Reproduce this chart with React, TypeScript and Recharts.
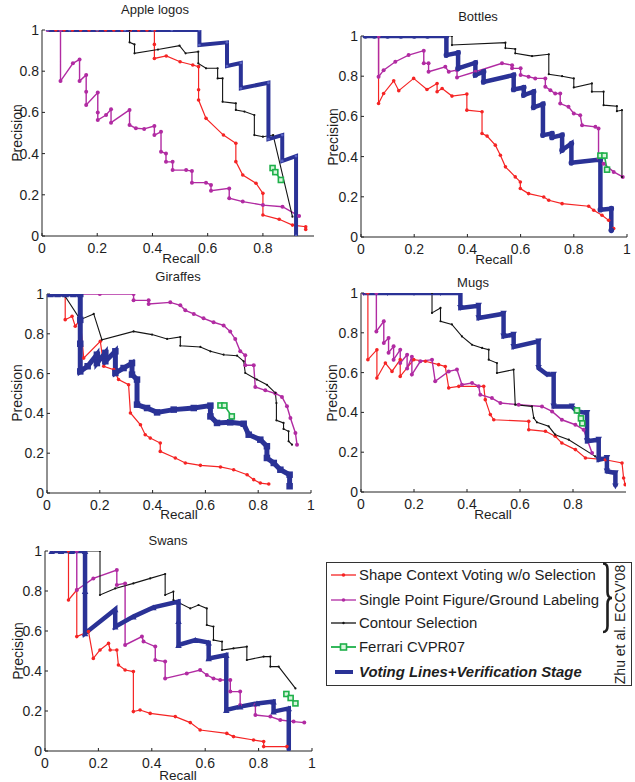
import React from 'react';
import { LineChart, Line, XAxis, YAxis } from 'recharts';

type Pt = [number, number];

const FONT = '"Liberation Sans", Arial, Helvetica, sans-serif';

const xTicksFull = [0, 0.2, 0.4, 0.6, 0.8, 1];
const xTicksShort = [0, 0.2, 0.4, 0.6, 0.8];
const yTicks = [0, 0.2, 0.4, 0.6, 0.8, 1];

const legendLabels = [
  'Shape Context Voting w/o Selection',
  'Single Point Figure/Ground Labeling',
  'Contour Selection',
  'Ferrari CVPR07',
  'Voting Lines+Verification Stage',
];
const sideNote = "Zhu et al. ECCV'08";

const RED = '#F52424';
const MAG = '#B12BA2';
const BLK = '#141414';
const GRN = '#1EB04A';
const BLU = '#2A3296';

// ---------- Apple logos ----------
const appleRed: Pt[] = [[0.02,1],[0.05,1],[0.08,1],[0.11,1],[0.14,1],[0.17,1],[0.2,1],[0.23,1],[0.26,1],[0.29,1],[0.32,1],[0.35,1],[0.38,1],[0.407,1],[0.407,0.93],[0.407,0.862],[0.45,0.874],[0.5,0.846],[0.546,0.83],[0.567,0.822],[0.567,0.71],[0.567,0.66],[0.594,0.571],[0.657,0.49],[0.702,0.45],[0.702,0.361],[0.727,0.296],[0.775,0.256],[0.8,0.207],[0.8,0.102],[0.859,0.081],[0.907,0.053],[0.955,0.045],[0.955,0.032]];
const appleMagenta: Pt[] = [[0.02,1],[0.067,1],[0.067,0.752],[0.112,0.838],[0.136,0.857],[0.136,0.752],[0.16,0.782],[0.16,0.7],[0.16,0.636],[0.202,0.696],[0.202,0.6],[0.202,0.563],[0.232,0.587],[0.25,0.615],[0.25,0.55],[0.317,0.612],[0.317,0.539],[0.34,0.523],[0.37,0.52],[0.407,0.534],[0.407,0.49],[0.431,0.506],[0.431,0.409],[0.449,0.401],[0.449,0.36],[0.473,0.36],[0.473,0.32],[0.522,0.32],[0.543,0.315],[0.543,0.259],[0.594,0.259],[0.612,0.248],[0.612,0.22],[0.678,0.231],[0.678,0.183],[0.727,0.167],[0.8,0.15],[0.871,0.142],[0.931,0.097]];
const appleBlack: Pt[] = [[0.02,1],[0.317,1],[0.317,0.94],[0.335,0.93],[0.335,0.887],[0.42,0.905],[0.498,0.924],[0.52,0.887],[0.566,0.895],[0.566,0.838],[0.594,0.814],[0.636,0.814],[0.636,0.765],[0.654,0.765],[0.654,0.652],[0.702,0.644],[0.702,0.612],[0.733,0.604],[0.769,0.587],[0.769,0.49],[0.8,0.482],[0.837,0.49],[0.907,0.094]];
const appleGreen: Pt[] = [[0.835,0.33],[0.845,0.31],[0.865,0.272]];
const appleBlue: Pt[] = [[0.02,1],[0.1,1],[0.2,1],[0.3,1],[0.4,1],[0.47,1],[0.57,1],[0.57,0.927],[0.67,0.94],[0.67,0.825],[0.72,0.84],[0.72,0.717],[0.82,0.744],[0.82,0.47],[0.87,0.49],[0.87,0.364],[0.92,0.388],[0.92,0.0]];

// ---------- Bottles ----------
const bottlesRed: Pt[] = [[0.016,1],[0.066,1],[0.066,0.664],[0.085,0.714],[0.123,0.777],[0.142,0.728],[0.198,0.789],[0.248,0.734],[0.286,0.764],[0.286,0.723],[0.305,0.739],[0.342,0.701],[0.398,0.711],[0.398,0.631],[0.455,0.623],[0.455,0.515],[0.474,0.502],[0.505,0.457],[0.524,0.407],[0.543,0.349],[0.58,0.299],[0.599,0.274],[0.599,0.241],[0.63,0.216],[0.687,0.199],[0.706,0.183],[0.756,0.166],[0.856,0.153],[0.875,0.133],[0.906,0.108],[0.931,0.083],[0.95,0.042]];
const bottlesMagenta: Pt[] = [[0.016,1],[0.066,1],[0.066,0.797],[0.085,0.83],[0.129,0.872],[0.179,0.905],[0.236,0.927],[0.236,0.864],[0.254,0.864],[0.254,0.822],[0.317,0.847],[0.33,0.822],[0.361,0.83],[0.361,0.794],[0.43,0.822],[0.53,0.864],[0.568,0.855],[0.568,0.839],[0.6,0.839],[0.6,0.806],[0.63,0.797],[0.655,0.789],[0.693,0.789],[0.693,0.748],[0.712,0.73],[0.73,0.714],[0.749,0.714],[0.749,0.664],[0.78,0.648],[0.8,0.615],[0.824,0.606],[0.831,0.556],[0.881,0.548],[0.893,0.54],[0.893,0.39],[0.912,0.365],[0.95,0.324],[0.984,0.299]];
const bottlesBlack: Pt[] = [[0.016,1],[0.342,1],[0.342,0.955],[0.543,0.967],[0.543,0.94],[0.58,0.935],[0.58,0.914],[0.643,0.9],[0.706,0.909],[0.706,0.81],[0.756,0.8],[0.8,0.789],[0.8,0.744],[0.868,0.764],[0.868,0.723],[0.912,0.723],[0.912,0.656],[0.962,0.651],[0.962,0.626],[0.981,0.631],[0.981,0.299]];
const bottlesGreen: Pt[] = [[0.9,0.405],[0.915,0.405],[0.925,0.335]];
const bottlesBlue: Pt[] = [[0.016,1],[0.05,1],[0.1,1],[0.15,1],[0.2,1],[0.25,1],[0.321,1],[0.321,0.905],[0.365,0.917],[0.365,0.839],[0.43,0.867],[0.43,0.806],[0.461,0.822],[0.461,0.772],[0.574,0.806],[0.574,0.734],[0.612,0.744],[0.612,0.706],[0.649,0.723],[0.649,0.645],[0.684,0.661],[0.684,0.507],[0.718,0.515],[0.718,0.495],[0.756,0.507],[0.756,0.432],[0.791,0.465],[0.791,0.369],[0.9,0.385],[0.9,0.136],[0.941,0.141],[0.941,0.033]];

// ---------- Giraffes ----------
const giraffesRed: Pt[] = [[0.013,1],[0.069,1],[0.069,0.871],[0.095,0.888],[0.107,0.838],[0.126,0.871],[0.139,0.678],[0.202,0.762],[0.215,0.637],[0.253,0.62],[0.271,0.57],[0.309,0.544],[0.316,0.402],[0.354,0.343],[0.372,0.293],[0.391,0.276],[0.429,0.251],[0.429,0.209],[0.486,0.176],[0.524,0.151],[0.581,0.139],[0.657,0.131],[0.707,0.117],[0.758,0.092],[0.783,0.067],[0.808,0.05],[0.84,0.045]];
const giraffesMagenta: Pt[] = [[0.013,1],[0.1,1],[0.2,1],[0.328,1],[0.328,0.968],[0.385,0.968],[0.385,0.95],[0.467,0.958],[0.505,0.943],[0.524,0.918],[0.556,0.9],[0.593,0.878],[0.631,0.858],[0.669,0.842],[0.694,0.811],[0.713,0.774],[0.732,0.712],[0.751,0.692],[0.751,0.642],[0.783,0.642],[0.789,0.533],[0.827,0.516],[0.865,0.5],[0.89,0.483],[0.909,0.436],[0.922,0.377],[0.941,0.302],[0.947,0.243]];
const giraffesBlack: Pt[] = [[0.013,1],[0.069,0.988],[0.126,0.871],[0.177,0.9],[0.208,0.77],[0.328,0.812],[0.398,0.796],[0.455,0.774],[0.505,0.784],[0.505,0.74],[0.581,0.734],[0.619,0.712],[0.669,0.695],[0.72,0.69],[0.745,0.662],[0.751,0.603],[0.795,0.57],[0.833,0.544],[0.865,0.503],[0.869,0.452],[0.869,0.365],[0.896,0.352],[0.896,0.322],[0.915,0.31],[0.915,0.26],[0.928,0.243]];
const giraffesGreen: Pt[] = [[0.657,0.44],[0.672,0.44],[0.7,0.385]];
const giraffesBlue: Pt[] = [[0.013,1],[0.04,1],[0.07,1],[0.1,1],[0.126,1],[0.126,0.87],[0.126,0.75],[0.126,0.611],[0.154,0.637],[0.189,0.695],[0.189,0.653],[0.221,0.704],[0.221,0.662],[0.259,0.712],[0.259,0.603],[0.29,0.628],[0.322,0.653],[0.322,0.595],[0.341,0.57],[0.341,0.444],[0.379,0.427],[0.417,0.405],[0.48,0.419],[0.556,0.427],[0.619,0.439],[0.619,0.385],[0.644,0.352],[0.694,0.355],[0.745,0.348],[0.764,0.293],[0.808,0.268],[0.833,0.235],[0.833,0.176],[0.859,0.151],[0.884,0.117],[0.919,0.092],[0.919,0.034]];

// ---------- Mugs ----------
const mugsRed: Pt[] = [[0.01,1],[0.026,1],[0.026,0.665],[0.06,0.715],[0.06,0.573],[0.092,0.648],[0.117,0.606],[0.148,0.665],[0.148,0.581],[0.199,0.665],[0.243,0.657],[0.293,0.64],[0.318,0.631],[0.331,0.523],[0.369,0.531],[0.463,0.531],[0.469,0.464],[0.488,0.389],[0.501,0.363],[0.633,0.355],[0.633,0.313],[0.696,0.305],[0.733,0.28],[0.758,0.246],[0.809,0.213],[0.847,0.171],[0.922,0.162],[0.985,0.146],[0.991,0.07],[0.997,0.037]];
const mugsMagenta: Pt[] = [[0.01,1],[0.058,1],[0.058,0.807],[0.086,0.858],[0.086,0.749],[0.104,0.774],[0.104,0.7],[0.123,0.732],[0.123,0.665],[0.148,0.715],[0.148,0.648],[0.174,0.69],[0.174,0.62],[0.192,0.68],[0.192,0.59],[0.224,0.657],[0.268,0.665],[0.28,0.556],[0.331,0.606],[0.362,0.615],[0.381,0.539],[0.419,0.548],[0.444,0.531],[0.45,0.489],[0.494,0.472],[0.526,0.447],[0.595,0.439],[0.683,0.43],[0.721,0.405],[0.758,0.363],[0.809,0.338],[0.84,0.313],[0.872,0.196]];
const mugsBlack: Pt[] = [[0.01,1],[0.268,1],[0.268,0.9],[0.3,0.925],[0.3,0.858],[0.343,0.842],[0.381,0.782],[0.419,0.74],[0.457,0.724],[0.482,0.715],[0.482,0.665],[0.513,0.648],[0.513,0.598],[0.576,0.615],[0.582,0.439],[0.645,0.43],[0.652,0.372],[0.664,0.35],[0.708,0.33],[0.733,0.288],[0.784,0.263],[0.884,0.179]];
const mugsGreen: Pt[] = [[0.815,0.41],[0.83,0.37],[0.835,0.345]];
const mugsBlue: Pt[] = [[0.01,1],[0.1,1],[0.2,1],[0.3,1],[0.375,1],[0.375,0.925],[0.444,0.936],[0.444,0.874],[0.538,0.896],[0.538,0.782],[0.576,0.791],[0.576,0.729],[0.67,0.757],[0.67,0.623],[0.702,0.59],[0.727,0.59],[0.727,0.43],[0.796,0.43],[0.815,0.405],[0.853,0.397],[0.853,0.255],[0.897,0.263],[0.897,0.162],[0.928,0.171],[0.928,0.104],[0.96,0.095],[0.96,0.028]];

// ---------- Swans ----------
const swansRed: Pt[] = [[0.025,1],[0.088,1],[0.088,0.755],[0.119,0.805],[0.119,0.572],[0.163,0.597],[0.181,0.463],[0.206,0.505],[0.238,0.538],[0.244,0.505],[0.269,0.505],[0.275,0.43],[0.3,0.405],[0.331,0.397],[0.331,0.197],[0.356,0.205],[0.394,0.188],[0.488,0.172],[0.544,0.142],[0.581,0.105],[0.681,0.088],[0.706,0.072],[0.781,0.055],[0.819,0.047],[0.819,0.022],[0.906,0.022]];
const swansMagenta: Pt[] = [[0.025,1],[0.119,1],[0.119,0.805],[0.181,0.863],[0.269,0.905],[0.269,0.83],[0.3,0.838],[0.3,0.53],[0.363,0.572],[0.369,0.547],[0.413,0.522],[0.413,0.455],[0.45,0.447],[0.45,0.363],[0.531,0.388],[0.581,0.405],[0.606,0.38],[0.631,0.363],[0.656,0.355],[0.694,0.355],[0.694,0.297],[0.731,0.297],[0.731,0.23],[0.788,0.23],[0.788,0.18],[0.844,0.172],[0.881,0.155],[0.931,0.147],[0.971,0.142]];
const swansBlack: Pt[] = [[0.025,1],[0.206,1],[0.206,0.78],[0.263,0.813],[0.331,0.838],[0.394,0.863],[0.45,0.885],[0.45,0.78],[0.481,0.797],[0.481,0.755],[0.544,0.713],[0.575,0.73],[0.606,0.713],[0.606,0.63],[0.631,0.622],[0.631,0.555],[0.663,0.547],[0.663,0.505],[0.706,0.513],[0.756,0.522],[0.756,0.455],[0.819,0.472],[0.844,0.472],[0.844,0.422],[0.875,0.422],[0.938,0.313]];
const swansGreen: Pt[] = [[0.904,0.285],[0.92,0.265],[0.938,0.238]];
const swansBlue: Pt[] = [[0.025,1],[0.06,1],[0.1,1],[0.15,1],[0.15,0.8],[0.15,0.588],[0.263,0.708],[0.263,0.622],[0.331,0.672],[0.406,0.718],[0.5,0.747],[0.5,0.65],[0.5,0.53],[0.563,0.555],[0.613,0.542],[0.613,0.463],[0.679,0.48],[0.679,0.205],[0.731,0.222],[0.794,0.238],[0.856,0.247],[0.856,0.197],[0.913,0.213],[0.913,0.005]];

const toRows = (pts: Pt[]) => pts.map(([r, p]) => ({ r, p }));

// ---------- marker renderers ----------
const circleDot = (rad: number, fill: string) => (props: any) => {
  const { cx, cy, index } = props;
  if (cx == null || cy == null) return <g key={`c${index}`} />;
  return <circle key={`c${index}`} cx={cx} cy={cy} r={rad} fill={fill} stroke="none" />;
};
const squareDot = (size: number, fill: string, stroke: string, sw: number) => (props: any) => {
  const { cx, cy, index } = props;
  if (cx == null || cy == null) return <g key={`s${index}`} />;
  return <rect key={`s${index}`} x={cx - size / 2} y={cy - size / 2} width={size} height={size} fill={fill} stroke={stroke} strokeWidth={sw} />;
};
const triDot = (size: number, fill: string, down: boolean) => (props: any) => {
  const { cx, cy, index } = props;
  if (cx == null || cy == null) return <g key={`t${index}`} />;
  const h = size * 0.9;
  const s = size / 2;
  const d = down
    ? `M${cx - s},${cy - h / 2}L${cx + s},${cy - h / 2}L${cx},${cy + h / 2}Z`
    : `M${cx - s},${cy + h / 2}L${cx + s},${cy + h / 2}L${cx},${cy - h / 2}Z`;
  return <path key={`t${index}`} d={d} fill={fill} stroke="none" />;
};

interface PanelCfg {
  x0: number; x1: number; y0: number; y1: number;
  domainMax: number; xTicks: number[];
  red: Pt[]; magenta: Pt[]; black: Pt[]; green: Pt[]; blue: Pt[];
  blueWidth: number; blueDot: any;
}

const panels: PanelCfg[] = [
  { x0: 42, x1: 314, y0: 30, y1: 236, domainMax: 0.985, xTicks: xTicksShort, red: appleRed, magenta: appleMagenta, black: appleBlack, green: appleGreen, blue: appleBlue, blueWidth: 4, blueDot: circleDot(1.4, '#5a64c4') },
  { x0: 361, x1: 627, y0: 36, y1: 237, domainMax: 1, xTicks: xTicksFull, red: bottlesRed, magenta: bottlesMagenta, black: bottlesBlack, green: bottlesGreen, blue: bottlesBlue, blueWidth: 4.5, blueDot: circleDot(2.8, BLU) },
  { x0: 47, x1: 311, y0: 294, y1: 493, domainMax: 1, xTicks: xTicksFull, red: giraffesRed, magenta: giraffesMagenta, black: giraffesBlack, green: giraffesGreen, blue: giraffesBlue, blueWidth: 5, blueDot: squareDot(6.5, BLU, 'none', 0) },
  { x0: 361, x1: 626, y0: 293, y1: 492, domainMax: 1, xTicks: xTicksShort, red: mugsRed, magenta: mugsMagenta, black: mugsBlack, green: mugsGreen, blue: mugsBlue, blueWidth: 4.5, blueDot: triDot(6.5, BLU, true) },
  { x0: 45, x1: 312, y0: 551, y1: 751, domainMax: 1, xTicks: xTicksFull, red: swansRed, magenta: swansMagenta, black: swansBlack, green: swansGreen, blue: swansBlue, blueWidth: 4.5, blueDot: triDot(6.5, BLU, false) },
];

const titles = [
  { text: 'Apple logos', x: 155, y: 9 },
  { text: 'Bottles', x: 478, y: 16 },
  { text: 'Giraffes', x: 178, y: 276 },
  { text: 'Mugs', x: 473, y: 282 },
  { text: 'Swans', x: 168, y: 540 },
];
const recallPos = [
  { x: 181, y: 258 }, { x: 494, y: 259 }, { x: 179, y: 514 }, { x: 493, y: 514 }, { x: 178, y: 775 },
];
const precisionPos = [
  { x: 17, y: 133 }, { x: 333, y: 137 }, { x: 17, y: 393 }, { x: 332, y: 393 }, { x: 18, y: 651 },
];

const tickStyle = { fill: '#1e1e1e', fontSize: 14, fontFamily: FONT };

function Panel({ cfg }: { cfg: PanelCfg }) {
  const padL = 40, padR = 6, padT = 8, padB = 24;
  const width = cfg.x1 - cfg.x0 + padL + padR;
  const height = cfg.y1 - cfg.y0 + padT + padB;
  return (
    <div style={{ position: 'absolute', left: cfg.x0 - padL, top: cfg.y0 - padT }}>
      <LineChart width={width} height={height} margin={{ top: padT, right: padR, bottom: 0, left: 0 }}>
        <XAxis
          type="number"
          dataKey="r"
          domain={[0, cfg.domainMax]}
          ticks={cfg.xTicks}
          interval={0}
          allowDataOverflow
          height={padB}
          axisLine={{ stroke: '#222', strokeWidth: 1 }}
          tickLine={{ stroke: '#222' }}
          tickSize={-3}
          tickMargin={10}
          tick={tickStyle}
        />
        <YAxis
          type="number"
          domain={[0, 1]}
          ticks={yTicks}
          interval={0}
          allowDataOverflow
          width={padL}
          axisLine={{ stroke: '#222', strokeWidth: 1 }}
          tickLine={{ stroke: '#222' }}
          tickSize={-3}
          tickMargin={6}
          tick={tickStyle}
        />
        <Line data={toRows(cfg.red)} dataKey="p" type="linear" stroke={RED} strokeWidth={1.2} dot={circleDot(1.8, RED)} activeDot={false} isAnimationActive={false} />
        <Line data={toRows(cfg.magenta)} dataKey="p" type="linear" stroke={MAG} strokeWidth={1.4} dot={circleDot(2, MAG)} activeDot={false} isAnimationActive={false} />
        <Line data={toRows(cfg.black)} dataKey="p" type="linear" stroke={BLK} strokeWidth={1.1} dot={circleDot(1.1, BLK)} activeDot={false} isAnimationActive={false} />
        <Line data={toRows(cfg.blue)} dataKey="p" type="linear" stroke={BLU} strokeWidth={cfg.blueWidth} strokeLinejoin="miter" dot={cfg.blueDot} activeDot={false} isAnimationActive={false} />
        <Line data={toRows(cfg.green)} dataKey="p" type="linear" stroke={GRN} strokeWidth={1.6} dot={squareDot(5, '#d8f5dc', GRN, 1.6)} activeDot={false} isAnimationActive={false} />
      </LineChart>
    </div>
  );
}

function Legend() {
  const rows = [13, 38, 61, 85, 110];
  const colors = [RED, MAG, BLK, GRN, BLU];
  return (
    <svg width={306} height={124} style={{ position: 'absolute', left: 326, top: 562 }}>
      <rect x={0.5} y={0.5} width={305} height={123} fill="#fff" stroke="#333" strokeWidth={1} />
      {legendLabels.map((lab, i) => {
        const y = rows[i];
        const c = colors[i];
        return (
          <g key={lab}>
            {i < 4 ? (
              <g>
                <line x1={5} x2={30} y1={y} y2={y} stroke={c} strokeWidth={i === 3 ? 1.8 : 1.3} />
                {i === 3 ? (
                  <rect x={14.5} y={y - 3} width={6} height={6} fill="#d8f5dc" stroke={c} strokeWidth={1.6} />
                ) : (
                  <circle cx={17.5} cy={y} r={i === 2 ? 1.2 : 1.8} fill={c} />
                )}
              </g>
            ) : (
              <line x1={9} x2={27} y1={y} y2={y} stroke={c} strokeWidth={4} />
            )}
            <text
              x={33}
              y={y}
              dominantBaseline="central"
              fontFamily={FONT}
              fontSize={14.9}
              fill="#1e1e1e"
              fontWeight={i === 4 ? 'bold' : 'normal'}
              fontStyle={i === 4 ? 'italic' : 'normal'}
            >
              {lab}
            </text>
          </g>
        );
      })}
      <path d="M277,1.5 Q281.5,1.5 281.5,7 L281.5,30 Q281.5,36 286,36 Q281.5,36 281.5,42 L281.5,64 Q281.5,70 277,70" fill="none" stroke="#1e1e1e" strokeWidth={2.6} />
      <text
        x={294}
        y={62.5}
        transform="rotate(-90 294 62.5)"
        textAnchor="middle"
        dominantBaseline="central"
        fontFamily={FONT}
        fontSize={14}
        fill="#1e1e1e"
      >
        {sideNote}
      </text>
    </svg>
  );
}

export default function App() {
  return (
    <div style={{ position: 'absolute', left: 0, top: 0, width: 635, height: 782, overflow: 'hidden', background: '#fff' }}>
      {panels.map((p, i) => (
        <Panel key={i} cfg={p} />
      ))}
      <svg width={635} height={782} style={{ position: 'absolute', left: 0, top: 0, pointerEvents: 'none' }}>
        {titles.map((t) => (
          <text key={t.text} x={t.x} y={t.y} textAnchor="middle" dominantBaseline="central" fontFamily={FONT} fontSize={13} fill="#1e1e1e">
            {t.text}
          </text>
        ))}
        {recallPos.map((r, i) => (
          <text key={`r${i}`} x={r.x} y={r.y} textAnchor="middle" dominantBaseline="central" fontFamily={FONT} fontSize={13.5} fill="#1e1e1e">
            Recall
          </text>
        ))}
        {precisionPos.map((r, i) => (
          <text key={`p${i}`} x={r.x} y={r.y} transform={`rotate(-90 ${r.x} ${r.y})`} textAnchor="middle" dominantBaseline="central" fontFamily={FONT} fontSize={14} fill="#1e1e1e">
            Precision
          </text>
        ))}
      </svg>
      <Legend />
    </div>
  );
}
